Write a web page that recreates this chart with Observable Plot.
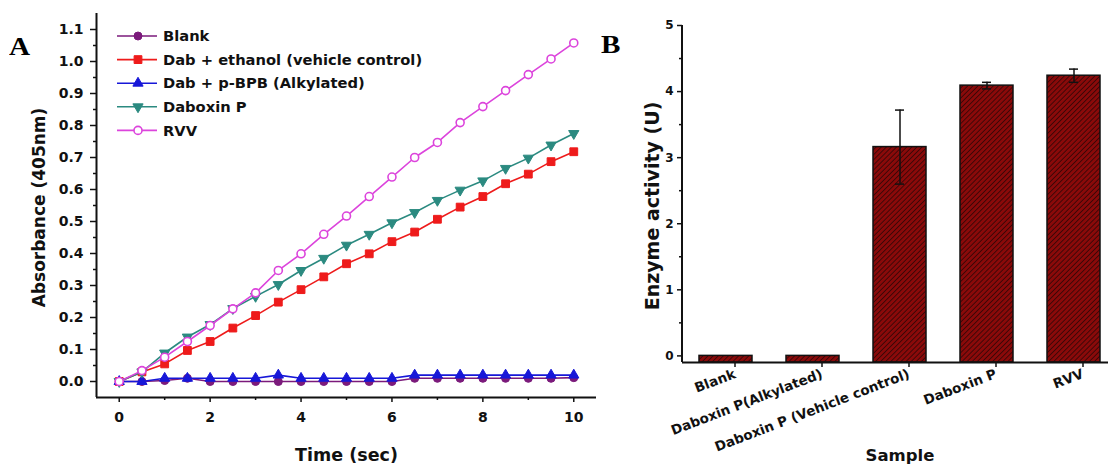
<!DOCTYPE html>
<html><head><meta charset="utf-8">
<script src="https://cdn.jsdelivr.net/npm/d3@7"></script>
<script src="https://cdn.jsdelivr.net/npm/@observablehq/plot@0.6"></script>
<style>
html,body{margin:0;padding:0;background:#fff;overflow:hidden;width:1108px;height:466px}
#wrap{position:relative;width:1108px;height:466px;overflow:hidden;font-family:"DejaVu Sans",sans-serif}
.panel{position:absolute;top:0}
.panel svg{max-width:none !important}
.letter{position:absolute;font-family:"Liberation Serif","Times New Roman",serif;font-weight:bold;font-size:26px;line-height:1;transform:scaleX(1.12);transform-origin:left top}
</style></head><body>
<div id="wrap">
  <div id="left" class="panel" style="left:0;width:600px"></div>
  <div id="right" class="panel" style="left:600px;width:520px"></div>
  <div id="legend" class="panel" style="left:110px;top:24px"></div>
  <div class="letter" style="left:9px;top:34px">A</div>
  <div class="letter" style="left:601px;top:32px">B</div>
</div>
<script>
const FONT = "DejaVu Sans, Liberation Sans, sans-serif";
// ---------- Panel A data ----------
const time = [0,0.5,1,1.5,2,2.5,3,3.5,4,4.5,5,5.5,6,6.5,7,7.5,8,8.5,9,9.5,10];
const blank   = [0,0,0.003,0.01,0,0,0,0,0,0,0,0,0,0.01,0.01,0.01,0.01,0.01,0.01,0.01,0.012];
const ethanol = [0,0.03,0.055,0.097,0.125,0.167,0.206,0.248,0.287,0.327,0.368,0.399,0.437,0.467,0.507,0.545,0.578,0.618,0.648,0.687,0.718];
const alkyl   = [0,0,0.01,0.01,0.01,0.01,0.01,0.02,0.01,0.01,0.01,0.01,0.01,0.02,0.02,0.02,0.02,0.02,0.02,0.02,0.02];
const daboxin = [0,0.03,0.089,0.139,0.178,0.228,0.266,0.303,0.347,0.385,0.426,0.46,0.496,0.528,0.566,0.598,0.627,0.666,0.698,0.739,0.775];
const rvv     = [0,0.034,0.076,0.125,0.175,0.227,0.277,0.347,0.399,0.46,0.517,0.578,0.639,0.70,0.747,0.809,0.859,0.909,0.959,1.008,1.058];
const seriesNames = ["Blank","Dab + ethanol (vehicle control)","Dab + p-BPB (Alkylated)","Daboxin P","RVV"];
const yTicksA = [0,0.1,0.2,0.3,0.4,0.5,0.6,0.7,0.8,0.9,1.0,1.1];
const xTicksA = [0,2,4,6,8,10];

// ---------- Panel B data ----------
const samples  = ["Blank","Daboxin P(Alkylated)","Daboxin P (Vehicle control)","Daboxin P","RVV"];
const activity = [0,0,3.16,4.09,4.24];
const errs     = [0,0,0.56,0.05,0.10];
const yTicksB  = [0,1,2,3,4,5];

// ---------- styles ----------
const triangleDown = {
  draw(ctx, size) {
    const y = -Math.sqrt(size / (Math.sqrt(3) * 3));
    ctx.moveTo(0, -2 * y);
    ctx.lineTo(-Math.sqrt(3) * y, y);
    ctx.lineTo(Math.sqrt(3) * y, y);
    ctx.closePath();
  }
};
const styles = [
  {color:"#7b1a7b", symbol:d3.symbolCircle, r:4.0, fill:true},
  {color:"#ee1b1b", symbol:d3.symbolSquare, r:4.4, fill:true},
  {color:"#1717d8", symbol:d3.symbolTriangle, r:3.8, fill:true},
  {color:"#2b8a80", symbol:triangleDown, r:3.8, fill:true},
  {color:"#dc44dc", symbol:d3.symbolCircle, r:4.0, fill:false}
];
const values = [blank, ethanol, alkyl, daboxin, rvv];

const xDomA = [-0.5, 10.5], yDomA = [-0.05, 1.15];
const marksA = [];
values.forEach((vals, k) => {
  const s = styles[k];
  marksA.push(Plot.line(time, {x: d => d, y: (d, i) => vals[i], stroke: s.color, strokeWidth: 1.6}));
  marksA.push(Plot.dot(time, {x: d => d, y: (d, i) => vals[i], symbol: () => s.symbol, r: s.r,
    fill: s.fill ? s.color : "white", stroke: s.color, strokeWidth: s.fill ? 1 : 1.6}));
});

const minorYA = d3.range(0, 23).map(i => +(0.05 + i * 0.1).toFixed(2)).filter(v => v < 1.15);
const minorXA = [1,3,5,7,9];

const plotA = Plot.plot({
  width: 600, height: 466,
  marginLeft: 96, marginRight: 4, marginTop: 13, marginBottom: 69,
  style: {fontFamily: FONT, fontWeight: "bold", color: "#111", background: "white"},
  x: {domain: xDomA},
  y: {domain: yDomA},
  marks: [
    Plot.axisY(yTicksA, {tickSize: 6, tickPadding: 7, tickFormat: d3.format(".1f"), fontSize: 14, label: null, strokeWidth: 1.5}),
    Plot.axisY(minorYA, {tickSize: 3, tickFormat: () => "", label: null, strokeWidth: 1.5}),
    Plot.axisX(xTicksA, {tickSize: 5, tickPadding: 10, fontSize: 14, label: null, strokeWidth: 1.5}),
    Plot.axisX(minorXA, {tickSize: 3, tickFormat: () => "", label: null, strokeWidth: 1.5}),
    Plot.ruleX([xDomA[0]], {y1: yDomA[0], y2: yDomA[1], stroke: "#111", strokeWidth: 2}),
    Plot.ruleY([yDomA[0]], {x1: xDomA[0], x2: xDomA[1], stroke: "#111", strokeWidth: 2}),
    ...marksA,
    Plot.text(["Absorbance (405nm)"], {frameAnchor: "left", dx: -57, dy: 2, rotate: -90, textAnchor: "middle", lineAnchor: "middle", fontSize: 17, fontWeight: "bold", fill: "#111"}),
    Plot.text(["Time (sec)"], {frameAnchor: "bottom", dy: 58, textAnchor: "middle", lineAnchor: "middle", fontSize: 17.5, fontWeight: "bold", fill: "#111"})
  ]
});
document.getElementById("left").appendChild(plotA);

// ---------- legend ----------
const leg = d3.select("#legend").append("svg").attr("width", 330).attr("height", 125)
  .style("font-family", FONT).style("font-weight", "bold");
seriesNames.forEach((name, k) => {
  const s = styles[k];
  const g = leg.append("g").attr("transform", `translate(0,${12 + k * 23.6})`);
  g.append("line").attr("x1", 7).attr("x2", 47).attr("y1", 0).attr("y2", 0).attr("stroke", s.color).attr("stroke-width", 1.6);
  g.append("path").attr("transform", "translate(28,0)")
    .attr("d", d3.symbol(s.symbol, s.r * s.r * Math.PI)())
    .attr("fill", s.fill ? s.color : "white").attr("stroke", s.color).attr("stroke-width", s.fill ? 1 : 1.6);
  g.append("text").attr("x", 53).attr("y", 0).attr("dy", "0.36em").attr("font-size", 14.7).attr("fill", "#111").text(name);
});

// ---------- Panel B ----------
const yDomB = [-0.1, 5];
const bars = samples.map((s, i) => ({sample: s, value: activity[i], err: errs[i]}));
const minorYB = [0.5,1.5,2.5,3.5,4.5];
const plotB = Plot.plot({
  width: 520, height: 466,
  marginLeft: 82, marginRight: 3, marginTop: 25, marginBottom: 104,
  style: {fontFamily: FONT, fontWeight: "bold", color: "#111", background: "white", overflow: "visible", maxWidth: "none"},
  x: {domain: samples, range: [82, 517], paddingInner: 0.39, paddingOuter: 0.195},
  y: {domain: yDomB},
  marks: [
    Plot.axisY(yTicksB, {tickSize: 5, tickPadding: 4, tickFormat: d3.format("d"), fontSize: 12, label: null, strokeWidth: 1.5}),
    Plot.axisY(minorYB, {tickSize: 3, tickFormat: () => "", label: null, strokeWidth: 1.5}),
    Plot.axisX({tickSize: 5, tickRotate: -21, fontSize: 13.5, label: null, strokeWidth: 1.5, tickPadding: 6, dx: 9}),
    Plot.rectY(bars, {x: "sample", y1: yDomB[0], y2: "value", fill: "url(#hatchB)", stroke: "#111", strokeWidth: 1.5}),
    Plot.ruleX(bars.filter(d => d.err > 0), {x: "sample", y1: d => d.value - d.err, y2: d => d.value + d.err, stroke: "#111", strokeWidth: 1.5}),
    Plot.tickY(bars.filter(d => d.err > 0), {x: "sample", y: d => d.value + d.err, stroke: "#111", strokeWidth: 1.5, insetLeft: 22, insetRight: 22}),
    Plot.tickY(bars.filter(d => d.err > 0), {x: "sample", y: d => d.value - d.err, stroke: "#111", strokeWidth: 1.5, insetLeft: 22, insetRight: 22}),
    Plot.ruleX([samples[0]], {y1: yDomB[0], y2: yDomB[1], stroke: "#111", strokeWidth: 2, dx: -44}),
    Plot.ruleY([yDomB[0]], {stroke: "#111", strokeWidth: 2}),
    Plot.text(["Enzyme activity (U)"], {frameAnchor: "left", dx: -30, dy: 12, rotate: -90, textAnchor: "middle", lineAnchor: "middle", fontSize: 19, fontWeight: "bold", fill: "#111"}),
    Plot.text(["Sample"], {frameAnchor: "bottom", dy: 93, textAnchor: "middle", lineAnchor: "middle", fontSize: 16.5, fontWeight: "bold", fill: "#111"})
  ]
});
d3.select(plotB).insert("defs", ":first-child").html(
  `<pattern id="hatchB" patternUnits="userSpaceOnUse" width="3.6" height="3.6" patternTransform="rotate(45)">
     <rect width="3.6" height="3.6" fill="#8a0a0a"></rect>
     <line x1="0" y1="0" x2="0" y2="3.6" stroke="#1a0505" stroke-width="1.3"></line>
   </pattern>`);
document.getElementById("right").appendChild(plotB);
</script>
</body></html>
